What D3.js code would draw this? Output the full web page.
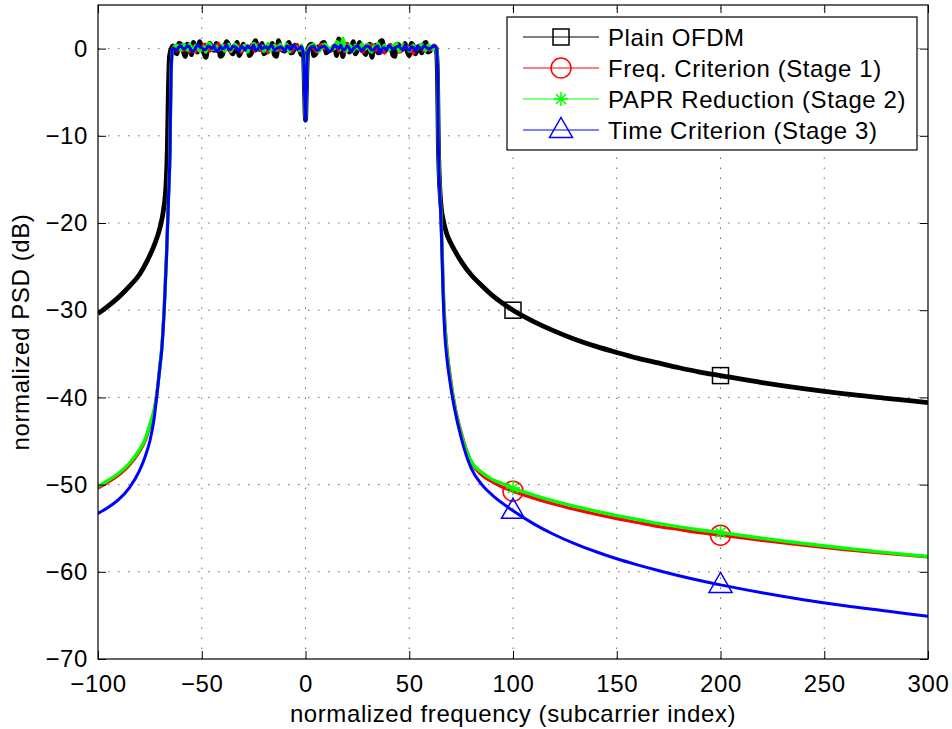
<!DOCTYPE html>
<html><head><meta charset="utf-8">
<script src="https://cdn.jsdelivr.net/npm/d3@7"></script>
<style>
body{margin:0;background:#fff;}
text{font-family:"Liberation Sans",Arial,Helvetica,sans-serif;}
</style></head>
<body><svg id="c" width="952" height="729"></svg>
<script>
// ---------------- data ----------------
const xTicks = [-100,-50,0,50,100,150,200,250,300];
const yTicks = [-70,-60,-50,-40,-30,-20,-10,0];
const seriesNames = ["Plain OFDM","Freq. Criterion (Stage 1)","PAPR Reduction (Stage 2)","Time Criterion (Stage 3)"];
const markerX = [100,200];

// passband sample positions (subcarrier index)
const bandX    = [...d3.range(-64,-1,2), -1,-0.5,0,0.5,1, ...d3.range(2,63,2), 63];
const bandOddX = [...d3.range(-63,-2,2), ...d3.range(3,62,2)];

// Plain OFDM
const blackLeftX  = [-100,-95,-90,-85,-80,-76,-73,-70,-68.5,-67.2,-66.6,-66.1,-65.5];
const blackLeft   = [-30.4,-29.5,-28.5,-27.3,-25.9,-24.2,-22.6,-20.4,-18.6,-15.5,-11.7,-5,-0.8];
const blackBandL  = [0.3,-0.6,0.5,-0.9,0.2,0.7,-0.4,0.1,-1.0,0.6,-0.2,0.4,-0.7,0.8,-0.3,0.0,-0.8,0.5,0.2,-0.5,0.9,-0.1,-0.6,0.3,0.6,-0.9,0.1,-0.3,0.7,-0.4,0.2,-0.7];
const blackNotch  = [-0.6,-4.5,-8.2,-4.0,-0.4];
const blackBandR  = [0.4,-0.8,0.2,0.6,-0.5,-0.2,0.3,1.1,-0.9,0.5,0.0,-0.6,0.7,-0.3,0.2,-1.0,0.4,0.8,-0.4,0.1,-0.7,0.5,-0.2,0.6,-0.8,0.3,0.0,-0.5,0.7,-0.3,0.2,0.1];
const blackBandOdd= [-0.4,0.6,-0.2,0.5,-0.7,0.1,0.8,-0.5,0.3,-0.1,0.6,-0.9,0.2,0.4,-0.6,0.7,-0.3,0.1,-0.8,0.5,0.0,0.6,-0.4,0.2,-0.7,0.9,-0.2,0.3,-0.5,0.4,-0.1,
                     0.5,-0.6,0.2,0.7,-0.3,0.0,-0.8,0.6,0.3,-0.4,0.8,-0.2,0.1,-0.7,0.5,0.2,-0.5,0.9,-0.1,0.3,-0.9,0.4,0.0,-0.3,0.6,-0.6,0.2,0.5,-0.4,0.1];
const blackRightX = [63.6,64,64.8,65.6,66.4,68,70,72,75,80,85,90,95,100,110,120,130,140,150,160,170,180,190,200,220,240,260,280,300];
const blackRight  = [-3,-10.5,-16.3,-18.6,-19.7,-21.2,-22.3,-23.2,-24.4,-26,-27.2,-28.3,-29.2,-30.0,-31.3,-32.4,-33.35,-34.15,-34.85,-35.5,-36.05,-36.6,-37.1,-37.5,-38.3,-39.0,-39.6,-40.1,-40.6];

// shared tail positions for the three processed signals
const procLeftX  = [-100,-95,-90,-85,-80,-77,-75,-73,-71.7,-70,-69.3,-68,-67,-66,-65.3,-64.8];
const procRightX = [63.6,64,65,65.6,66.4,67.2,68,70,72,75,80,85,90,95,100,110,120,130,140,150,160,170,180,190,200,220,240,260,280,300];

// Freq. Criterion (Stage 1)
const redLeft    = [-50.4,-49.7,-48.9,-47.8,-46.2,-44.8,-43.3,-41.6,-39.7,-36,-34.4,-29.2,-23.7,-16.8,-11.5,-3];
const redBandL   = [0.2,-0.3,0.4,0.1,-0.4,0.3,0.0,-0.2,0.5,-0.3,0.2,0.6,-0.1,0.3,-0.4,0.1,0.4,-0.2,0.0,0.5,-0.3,0.2,0.3,-0.5,0.1,0.4,-0.2,0.0,0.3,-0.1,0.5,0.0];
const redNotch   = [-0.5,-4.3,-8.0,-3.9,-0.3];
const redBandR   = [0.3,0.0,-0.4,0.5,0.1,-0.2,0.4,-0.3,0.2,0.6,-0.1,0.0,0.3,-0.4,0.2,0.5,-0.2,0.1,-0.5,0.3,0.0,0.4,-0.3,0.2,0.1,-0.6,0.3,0.0,0.2,-0.2,0.4,0.1];
const redBandOdd = [0.1,0.4,-0.2,0.3,0.0,-0.4,0.2,0.5,-0.1,0.3,-0.3,0.1,0.4,-0.2,0.2,0.0,-0.4,0.3,0.1,-0.1,0.5,-0.3,0.0,0.2,0.4,-0.2,0.1,0.3,-0.4,0.2,0.0,
                    0.2,-0.3,0.4,0.0,0.1,-0.2,0.5,0.2,-0.4,0.3,0.0,0.1,-0.3,0.4,0.2,-0.1,0.3,0.0,-0.2,0.5,0.1,-0.4,0.2,0.3,-0.1,0.0,0.4,-0.3,0.1,0.2];
const redRight   = [-2,-10,-17,-21,-27.5,-31.5,-34,-38,-41,-44,-47.5,-48.9,-49.7,-50.3,-50.75,-51.55,-52.25,-52.85,-53.4,-53.9,-54.35,-54.8,-55.15,-55.5,-55.8,-56.4,-56.95,-57.45,-57.9,-58.3];

// PAPR Reduction (Stage 2)
const greenLeft    = [-50.2,-49.5,-48.7,-47.6,-46.0,-44.6,-43.1,-41.5,-39.7,-36.1,-34.5,-29.4,-23.9,-17,-11.6,-3];
const greenBandL   = [-0.1,0.4,-0.2,0.3,0.5,-0.3,0.2,0.1,-0.4,0.6,0.0,-0.2,0.4,0.2,-0.3,0.5,0.0,0.3,-0.4,0.1,0.4,0.2,-0.3,0.6,0.0,-0.2,0.5,0.1,-0.4,0.3,0.0,0.4];
const greenNotch   = [-0.5,-4.4,-8.1,-3.9,-0.4];
const greenBandR   = [0.2,0.5,-0.3,0.1,0.4,-0.2,0.0,0.6,1.2,-0.3,0.2,0.4,-0.1,0.3,0.5,-0.4,0.2,0.0,0.4,-0.2,0.3,0.6,-0.1,0.2,-0.3,0.4,0.1,0.5,-0.2,0.3,0.0,0.2];
const greenBandOdd = [0.3,0.0,0.5,-0.2,0.1,0.4,-0.3,0.2,0.6,-0.1,0.3,0.0,-0.3,0.5,0.1,0.2,-0.2,0.4,0.0,0.6,-0.1,0.3,0.1,-0.3,0.4,0.2,-0.1,0.5,0.0,0.2,-0.2,
                      0.4,0.1,-0.2,0.5,0.0,0.3,0.8,-0.1,0.2,0.4,-0.3,0.1,0.5,0.0,-0.2,0.3,0.6,-0.1,0.2,0.0,0.4,-0.3,0.5,0.1,0.2,-0.2,0.3,0.0,0.4,-0.1];
const greenRight   = [-2,-10.2,-17.5,-21.5,-28,-32,-34.5,-38.3,-41.2,-44.2,-47.4,-48.6,-49.4,-49.9,-50.4,-51.2,-51.9,-52.5,-53.05,-53.55,-54.0,-54.45,-54.85,-55.2,-55.5,-56.15,-56.75,-57.3,-57.8,-58.25];

// Time Criterion (Stage 3)
const blueLeft    = [-53.3,-52.6,-51.7,-50.4,-48.4,-46.6,-45.0,-42.5,-39.9,-36.2,-34.6,-29.5,-24,-17,-11.7,-3];
const blueBandL   = [0.1,-0.2,0.3,0.0,0.2,-0.3,0.4,0.1,-0.1,0.2,0.3,-0.2,0.0,0.4,-0.1,0.2,-0.3,0.1,0.3,0.0,-0.2,0.4,0.1,-0.1,0.3,0.0,0.2,-0.3,0.1,0.4,-0.1,0.2];
const blueNotch   = [-0.6,-4.6,-8.3,-4.1,-0.5];
const blueBandR   = [0.0,0.3,-0.2,0.2,0.1,-0.3,0.4,0.0,-0.1,0.3,-0.4,0.2,0.1,0.0,0.3,-0.2,0.2,-0.6,0.1,0.3,-0.1,0.2,0.0,0.4,-0.2,0.1,0.3,-0.1,0.2,0.0,0.3,0.1];
const blueBandOdd = [-0.1,0.2,0.0,0.3,-0.2,0.1,0.2,-0.1,0.3,0.0,-0.3,0.2,0.1,-0.1,0.3,0.0,0.2,-0.2,0.1,0.4,-0.1,0.0,0.2,0.3,-0.2,0.1,0.0,0.3,-0.1,0.2,0.0,
                     0.2,-0.1,0.1,0.3,-0.2,0.0,0.2,0.4,-0.1,0.1,0.0,0.3,-0.3,0.2,0.1,-0.1,0.3,0.0,-0.2,0.2,0.1,0.3,-0.1,0.0,0.2,-0.3,0.1,0.3,0.0,0.2];
const blueRight   = [-2,-10.5,-18,-22,-28.9,-33,-35.2,-38.8,-41.5,-44.6,-48.2,-50,-51.2,-52.15,-53.0,-54.5,-55.75,-56.8,-57.7,-58.5,-59.2,-59.85,-60.45,-61.0,-61.5,-62.4,-63.2,-63.9,-64.5,-65.1];

// ---------------- build ----------------
function build(lx, ly, band, odd, rx, ry){
  const pts = [];
  lx.forEach((x,i)=>pts.push([x,ly[i]]));
  const mid = [];
  bandX.forEach((x,i)=>mid.push([x,band[i]]));
  bandOddX.forEach((x,i)=>mid.push([x,odd[i]]));
  mid.sort((a,b)=>a[0]-b[0]);
  pts.push(...mid);
  rx.forEach((x,i)=>pts.push([x,ry[i]]));
  return pts;
}
const series = [
  {name:seriesNames[0], color:"#000000", w:4.8, marker:"square",
   pts: build(blackLeftX, blackLeft, [...blackBandL,...blackNotch,...blackBandR], blackBandOdd, blackRightX, blackRight)},
  {name:seriesNames[1], color:"#ff0000", w:3.2, marker:"circle",
   pts: build(procLeftX, redLeft, [...redBandL,...redNotch,...redBandR], redBandOdd, procRightX, redRight)},
  {name:seriesNames[2], color:"#00ff00", w:3.4, marker:"star",
   pts: build(procLeftX, greenLeft, [...greenBandL,...greenNotch,...greenBandR], greenBandOdd, procRightX, greenRight)},
  {name:seriesNames[3], color:"#0000ff", w:3.0, marker:"triangle",
   pts: build(procLeftX, blueLeft, [...blueBandL,...blueNotch,...blueBandR], blueBandOdd, procRightX, blueRight)}
];

const L=98, R=928, T=5, B=659;
const x = d3.scaleLinear().domain([-100,300]).range([L,R]);
const y = d3.scaleLinear().domain([-70,5]).range([B,T]);
const svg = d3.select("#c");
const FS = 24, LS = "0.6px";

// grid
const grid = svg.append("g").attr("stroke","#6a6a6a").attr("stroke-width",1).attr("stroke-dasharray","1.5,8.5");
xTicks.forEach(t=>{ if(t>-100 && t<300) grid.append("line").attr("x1",x(t)).attr("x2",x(t)).attr("y1",B).attr("y2",T); });
yTicks.forEach(t=>{ if(t>-70) grid.append("line").attr("y1",y(t)).attr("y2",y(t)).attr("x1",L).attr("x2",R); });

// clip
svg.append("defs").append("clipPath").attr("id","clip").append("rect").attr("x",L).attr("y",T).attr("width",R-L).attr("height",B-T);

function drawMarker(g, type, cx, cy, color){
  const s = g.append("g").attr("transform",`translate(${cx},${cy})`).attr("fill","none").attr("stroke",color).attr("stroke-width",1.5);
  if(type==="square") s.append("rect").attr("x",-8).attr("y",-8).attr("width",16).attr("height",16);
  else if(type==="circle") s.append("circle").attr("r",10);
  else if(type==="star"){
    const r=7, d=5;
    s.append("path").attr("d",`M${-r},0H${r}M0,${-r}V${r}M${-d},${-d}L${d},${d}M${-d},${d}L${d},${-d}`);
  }
  else if(type==="triangle") s.append("path").attr("d","M0,-12.5L11.5,7.5L-11.5,7.5Z");
}

const line = d3.line().x(d=>x(d[0])).y(d=>y(d[1])).curve(d3.curveMonotoneX);
const plot = svg.append("g").attr("clip-path","url(#clip)");
series.forEach(s=>{
  plot.append("path").attr("d",line(s.pts)).attr("fill","none").attr("stroke",s.color)
    .attr("stroke-width",s.w).attr("stroke-linejoin","round");
  markerX.forEach(mx=>{
    const p = s.pts.find(d=>d[0]===mx);
    drawMarker(plot, s.marker, x(p[0]), y(p[1]), s.color);
  });
});

// axes (inward ticks on all sides)
const ax = svg.append("g");
ax.append("g").attr("transform",`translate(0,${B})`)
  .call(d3.axisBottom(x).tickValues(xTicks).tickSizeInner(-8).tickSizeOuter(0).tickPadding(16));
ax.append("g").attr("transform",`translate(0,${T})`)
  .call(d3.axisTop(x).tickValues(xTicks).tickSizeInner(-8).tickSizeOuter(0).tickFormat(""));
ax.append("g").attr("transform",`translate(${L},0)`)
  .call(d3.axisLeft(y).tickValues(yTicks).tickSizeInner(-8).tickSizeOuter(0).tickPadding(10));
ax.append("g").attr("transform",`translate(${R},0)`)
  .call(d3.axisRight(y).tickValues(yTicks).tickSizeInner(-8).tickSizeOuter(0).tickFormat(""));
ax.selectAll(".domain").remove();
ax.selectAll(".tick line").attr("stroke","#000").attr("stroke-width",1);
ax.selectAll("text").attr("fill","#000").attr("font-family","Liberation Sans, Arial, sans-serif")
  .attr("font-size",FS).attr("letter-spacing",LS);
svg.append("rect").attr("x",L).attr("y",T).attr("width",R-L).attr("height",B-T).attr("fill","none").attr("stroke","#000").attr("stroke-width",1.2);

// axis labels
svg.append("text").attr("x",(L+R)/2).attr("y",722).attr("text-anchor","middle").attr("font-size",FS).attr("letter-spacing",LS)
  .text("normalized frequency (subcarrier index)");
svg.append("text").attr("transform",`translate(29,${(T+B)/2}) rotate(-90)`).attr("text-anchor","middle").attr("font-size",FS).attr("letter-spacing",LS)
  .text("normalized PSD (dB)");

// legend
const lg = svg.append("g");
lg.append("rect").attr("x",507).attr("y",17).attr("width",410).attr("height",133).attr("fill","#fff").attr("stroke","#000").attr("stroke-width",1.2);
series.forEach((s,i)=>{
  const cy = 37 + i*31;
  lg.append("line").attr("x1",523).attr("x2",599).attr("y1",cy).attr("y2",cy).attr("stroke",s.color).attr("stroke-width",1);
  drawMarker(lg, s.marker, 561, cy, s.color);
  lg.append("text").attr("x",608).attr("y",cy).attr("dy","0.36em").attr("font-size",FS).attr("letter-spacing",LS).text(s.name);
});
</script></body></html>
